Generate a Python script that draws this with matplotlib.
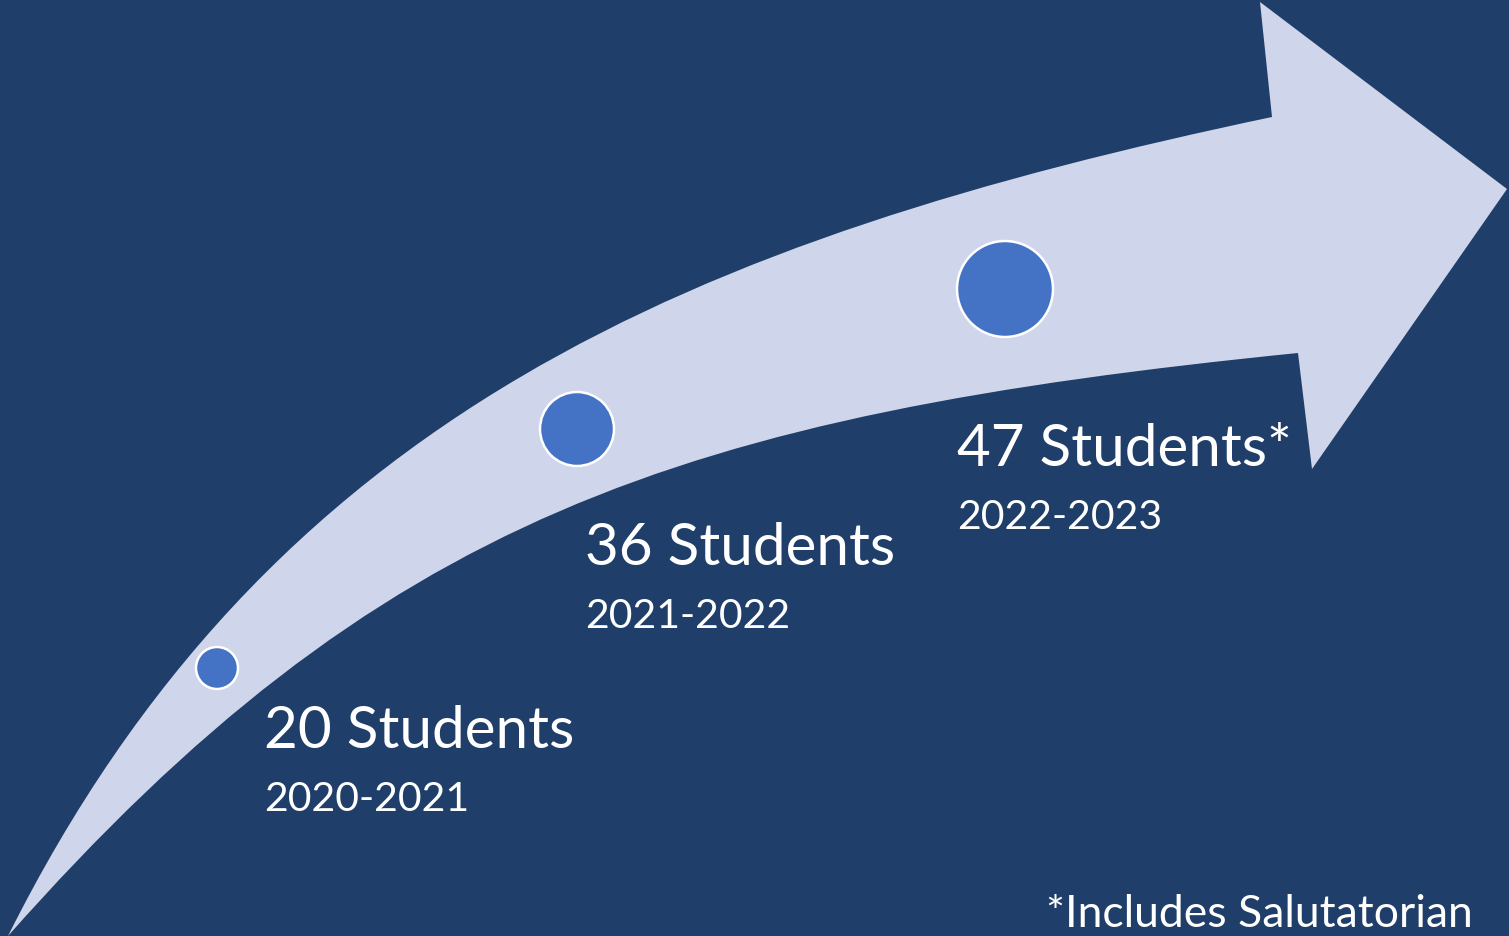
import matplotlib
matplotlib.use("Agg")
import matplotlib.pyplot as plt
from matplotlib.path import Path
from matplotlib.patches import PathPatch, Circle

# data
years = ["2020-2021", "2021-2022", "2022-2023"]
counts = [20, 36, 47]
marks = ["", "", "*"]
footnote = "*Includes Salutatorian"

# layout (pixel space, y down)
dot_xy = [(217, 669), (577, 430), (1005, 290)]
label_xy = [(264, 748), (585, 565), (957, 466)]
year_gap = 63

bg = "#1F3E69"
band = "#CFD5EA"
dot = "#4472C4"

W, H = 1509, 937
fig = plt.figure(figsize=(W / 100, H / 100), dpi=100)
fig.patch.set_facecolor(bg)
ax = fig.add_axes([0, 0, 1, 1])
ax.set_xlim(0, W)
ax.set_ylim(H, 0)
ax.axis("off")

# curved arrow: upper edge, head, lower edge back to the tail
verts = [
    (8, 937), (268, 417), (692, 240), (1272, 118),
    (1260, 3), (1507, 190), (1312, 470), (1298, 354),
    (680, 416), (378, 519), (8, 937),
    (8, 937),
]
codes = [Path.MOVETO, Path.CURVE4, Path.CURVE4, Path.CURVE4,
         Path.LINETO, Path.LINETO, Path.LINETO, Path.LINETO,
         Path.CURVE4, Path.CURVE4, Path.CURVE4,
         Path.CLOSEPOLY]
ax.add_patch(PathPatch(Path(verts, codes), facecolor=band, edgecolor="none"))

font = "Lato"
for (cx, cy), (lx, ly), n, yr, m in zip(dot_xy, label_xy, counts, years, marks):
    r = n * 1.0 + 1
    ax.add_patch(Circle((cx, cy), r, facecolor=dot, edgecolor="white", linewidth=1.8, zorder=3))
    ax.text(lx, ly, f"{n} Students{m}", color="white", fontsize=42, family=font,
            va="baseline", ha="left")
    ax.text(lx, ly + year_gap, yr, color="white", fontsize=29.5, family=font,
            va="baseline", ha="left")

ax.text(1473, 927, footnote, color="white", fontsize=32, family=font,
        va="baseline", ha="right")

fig.savefig("out.png", dpi=100, facecolor=bg)
